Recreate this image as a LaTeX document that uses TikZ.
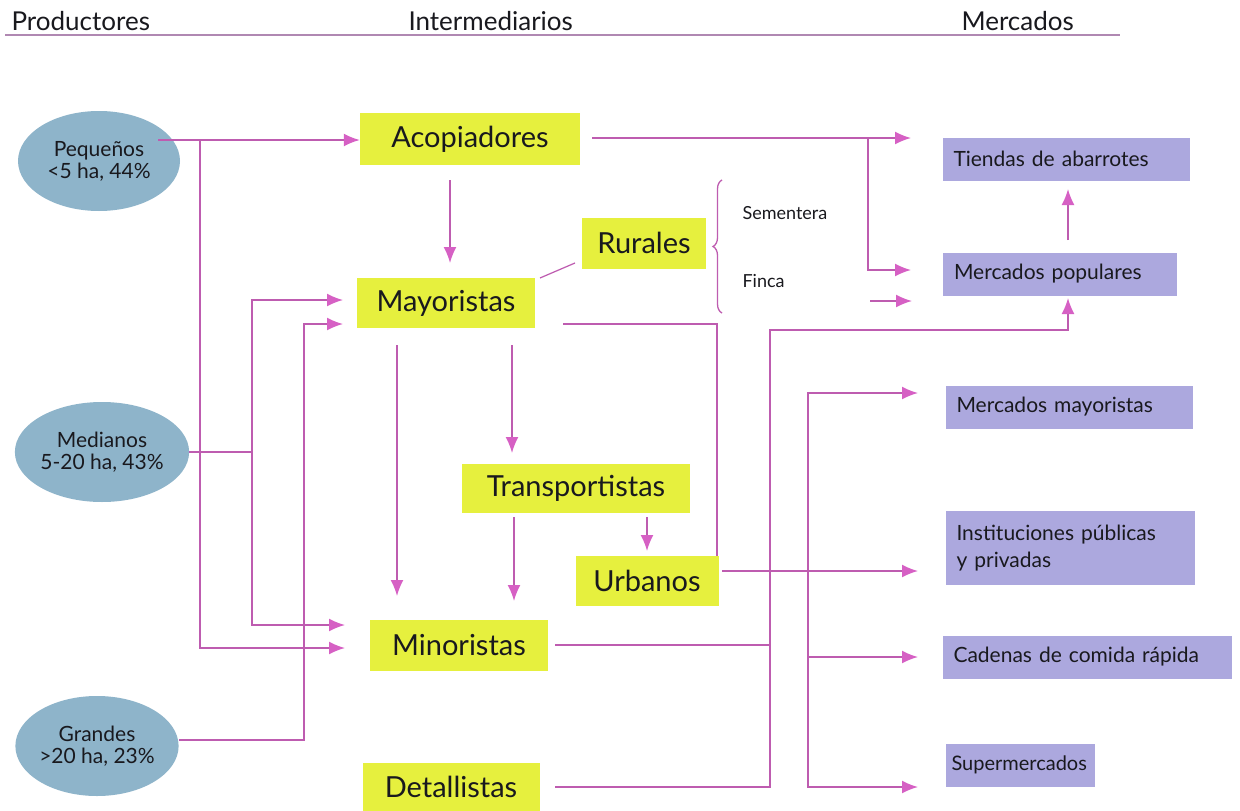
\documentclass[tikz,border=0pt]{standalone}
\usepackage{fontspec}
\setmainfont{Lato}
\usetikzlibrary{arrows.meta,decorations.pathreplacing,shapes.geometric,calc}
\definecolor{lnk}{RGB}{190,92,176}
\definecolor{tipc}{RGB}{214,96,196}
\definecolor{ybox}{RGB}{230,240,62}
\definecolor{pbox}{RGB}{172,168,222}
\definecolor{ell}{RGB}{142,180,202}
\definecolor{hdr}{RGB}{176,136,178}
\definecolor{txt}{RGB}{25,25,30}
\begin{document}
\begin{tikzpicture}[x=1pt,y=-1pt,
  ybx/.style={fill=ybox, inner sep=0pt, text=txt, font=\fontsize{29}{32}\selectfont},
  pbx/.style={fill=pbox, inner ysep=0pt, inner xsep=11pt, text=txt, font=\fontsize{21}{25}\selectfont, align=left, text width=#1, minimum height=43pt},
  prod/.style={ellipse, fill=ell, minimum width=162pt, minimum height=100pt, inner sep=0pt, align=center, text=txt, font=\fontsize{21}{22}\selectfont},
  hdrtxt/.style={anchor=base west, text=txt, font=\fontsize{26}{28}\selectfont},
  small/.style={anchor=base west, text=txt, font=\fontsize{18}{20}\selectfont},
  link/.style={draw=lnk, line width=1.7pt},
  arr/.style={link, -{Latex[length=16pt,width=13pt,color=tipc]}}
]
\useasboundingbox (0,0) rectangle (1240,811);
\fill[white] (0,0) rectangle (1240,811);

% header
\node[hdrtxt] (hP) at (8,30) {Productores};
\node[hdrtxt] (hI) at (405,30) {Intermediarios};
\node[hdrtxt] (hM) at (958,30) {Mercados};
\draw[draw=hdr, line width=1.8pt] (5,35) -- (1120,35);

% producers
\node[prod] (peq) at (99,161) {Pequeños\\<5 ha, 44\%};
\node[prod] (med) at (102,452) {Medianos\\5-20 ha, 43\%};
\node[prod] (gra) at (97,746) {Grandes\\>20 ha, 23\%};

% intermediaries
\node[ybx, minimum width=220pt, minimum height=52pt] (acop) at (470,139) {Acopiadores};
\node[ybx, minimum width=178pt, minimum height=50pt] (mayo) at (446,303) {Mayoristas};
\node[ybx, minimum width=124pt, minimum height=51pt] (rur) at (644,243) {Rurales};
\node[ybx, minimum width=228pt, minimum height=49pt] (trans) at (576,488) {Transportistas};
\node[ybx, minimum width=143pt, minimum height=50pt] (urb) at (647,581) {Urbanos};
\node[ybx, minimum width=178pt, minimum height=51pt] (mino) at (459,645) {Minoristas};
\node[ybx, minimum width=177pt, minimum height=48pt] (deta) at (451,787) {Detallistas};

% markets (width = text width + 22pt)
\node[pbx=225pt] (tien) at (1066,159) {Tiendas de abarrotes};
\node[pbx=212pt] (mpop) at (1060,274) {Mercados populares};
\node[pbx=225pt] (mmay) at (1069,407) {Mercados mayoristas};
\node[pbx=227pt, minimum height=74pt, font=\fontsize{21}{27}\selectfont] (inst) at (1070,548) {Instituciones públicas\\y privadas};
\node[pbx=267pt] (cad) at (1087,657) {Cadenas de comida rápida};
\node[pbx=137pt, inner xsep=6pt, font=\fontsize{20}{24}\selectfont] (sup) at (1020,765) {Supermercados};

% brace and labels
\draw[draw=lnk, line width=1.3pt, decorate, decoration={brace, amplitude=9pt}] (722,313) -- (722,180);
\node[small] (sem) at (739,219) {Sementera};
\node[small] (fin) at (739,287) {Finca};

% producers -> intermediaries
\draw[arr] ([xshift=-22pt]peq.east |- 0,140) -- (340,140 -| acop.west);
\draw[arr] (200,140) |- (345,648);
\draw[link] (med.east) -- (252,452);
\draw[arr] (252,625) |- (343,300);
\draw[arr] (252,452) |- (345,625);
\draw[arr] (gra.east |- 0,740) -| (304,324) -- (343,324);

% among intermediaries
\draw[arr] (450,180) -- (450,263);
\draw[arr] (397,345) -- (397,596);
\draw[arr] (512,345) -- (512,453);
\draw[arr] (514,517) -- (514,601);
\draw[arr] (647,517) -- (647,551);
\draw[link, line width=1.2pt] (540,278) -- (575,263);

% to markets
\draw[arr] (592,138) -- (911,138);
\draw[arr] (868,138) |- (911,270);
\draw[arr] (870,301) -- (912,301);
\draw[arr] (1068,240) -- (1068,189);
\draw[arr] (555,787) -| (770,330) -| (1068,298);
\draw[link] (555,645) -- (770,645);
\draw[link] (563,324) -| (717,556);
\draw[arr] (722,571) -- (918,571);
\draw[arr] (808,571) |- (918,393);
\draw[arr] (808,571) |- (918,787);
\draw[arr] (808,657) -- (918,657);
\end{tikzpicture}
\end{document}
